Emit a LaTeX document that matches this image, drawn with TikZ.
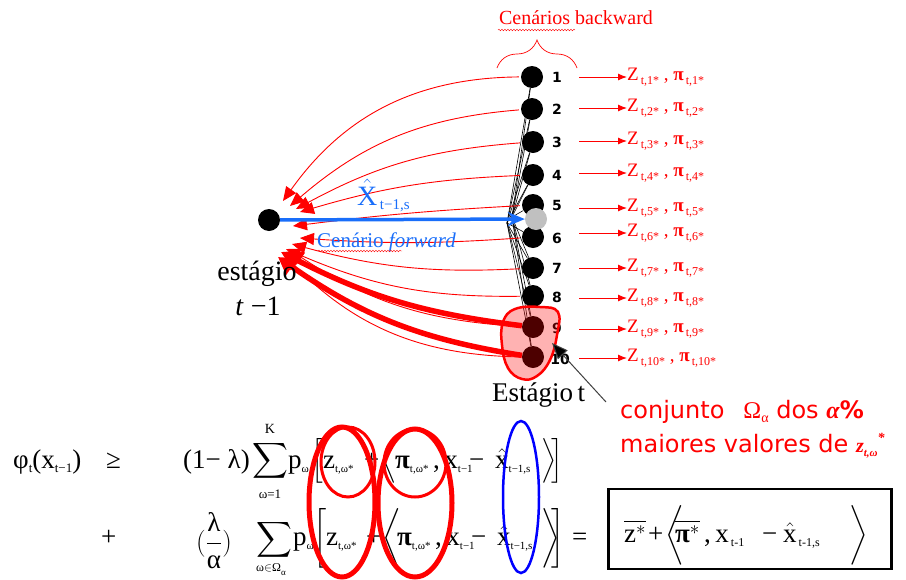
\RequirePackage{fix-cm}
\documentclass[tikz,border=0pt]{standalone}
\usepackage{amsmath}
\usepackage{fontspec}
\setmainfont{Liberation Serif}
\newfontfamily\dvsans{DejaVu Sans}
\usetikzlibrary{arrows.meta,decorations.pathreplacing,decorations.pathmorphing}
\definecolor{rd}{RGB}{255,0,0}
\definecolor{bl}{RGB}{25,110,250}
\definecolor{gry}{RGB}{192,192,192}
\newcommand{\fs}[1]{\fontsize{#1}{#1}\selectfont}
\newcommand{\lo}[2]{\raisebox{-4pt}{\fs{#1}#2}}
\newcommand{\ldl}[3]{$\left#1\vrule height #2 depth #3 width 0pt\right.$}
\newcommand{\rdl}[3]{$\left.\vrule height #2 depth #3 width 0pt\right#1$}
\begin{document}
\begin{tikzpicture}[x=1pt,y=-1pt,
  bnode/.style={circle,fill=black,minimum size=22pt,inner sep=0pt},
  gnode/.style={circle,fill=gry,minimum size=22pt,inner sep=0pt},
  num/.style={font=\dvsans\bfseries\fs{14},inner sep=0pt},
  zlab/.style={text=rd,font=\fs{19},anchor=west,inner sep=0pt},
  rarr/.style={draw=rd,line width=1pt,-{Latex[length=9pt,width=7pt]}},
  thinr/.style={draw=rd,line width=0.9pt,-{Triangle[length=14pt,width=12pt]},shorten <=2pt},
  thickr/.style={draw=rd,line width=5.5pt,-{Triangle[length=17pt,width=19pt]}},
  fan/.style={draw=black,line width=0.6pt},
  wavy/.style={draw=rd,line width=0.4pt,decorate,decoration={snake,amplitude=0.8pt,segment length=3pt}},
  eq/.style={anchor=base west,inner sep=0pt,font=\fs{27}},
  ctr/.style={inner sep=0pt}]
\useasboundingbox (0,0) rectangle (906,579);
\fill[white] (0,0) rectangle (906,579);

% nodes
\node[bnode] (L) at (269,220) {};
\node[bnode] (n1) at (532,77) {};
\node[bnode] (n2) at (532,109) {};
\node[bnode] (n3) at (533,142) {};
\node[bnode] (n4) at (533,175) {};
\node[bnode] (n5) at (533,205) {};
\node[bnode] (n6) at (533,237) {};
\node[bnode] (n7) at (533,268) {};
\node[bnode] (n8) at (533,296) {};
\node[bnode] (n9) at (533,327) {};
\node[bnode] (n10) at (533,357) {};
\node[gnode] (g) at (536,219) {};

% fan lines
\coordinate (F1) at (512,217);
\coordinate (F2) at (507,223);
\foreach \i in {1,2,3,4,7,8,9,10} {
  \draw[fan] (F1) -- (n\i);
  \draw[fan] (F2) -- (n\i);
}
\draw[fan] (F1) -- (n5);
\draw[fan] (F2) -- (n6);

% numbers
\foreach \i/\y in {1/77,2/109,3/142,4/175,5/205,6/238,7/268,8/297,9/328} {
  \node[num] (k\i) at (557,\y) {\i};
}
\node[num] (k10) at (560,359) {10};

% right labels
\foreach \i/\y in {1/77,2/108,3/141,4/173,5/208,6/233,7/268,8/298,9/329,10/358} {
  \coordinate (a\i) at (579,\y);
  \node[zlab] (z\i) at (627,\y) {Z\lo{12}{\,t,\i*} , \textbf{π}\lo{12}{\,t,\i*}};
  \draw[rarr] (a\i) -- (z\i.west);
}

% tips of red arrows
\coordinate (t1) at (283,201);
\coordinate (t2) at (290,206);
\coordinate (t3) at (296,209);
\coordinate (t4) at (300,212);
\coordinate (t5) at (293,226);
\coordinate (t6) at (300,238);
\coordinate (t7) at (292,244);
\coordinate (t8) at (286,249);
\coordinate (t9) at (281,252);
\coordinate (t9b) at (290,250);
\coordinate (t10) at (278,257);
\coordinate (t10b) at (285,256);

\draw[thinr] (n1) to[bend right=27] (t1);
\draw[thinr] (n2) to[bend right=18] (t2);
\draw[thinr] (n3) to[bend right=12] (t3);
\draw[thinr] (n4) to[bend right=7] (t4);
\draw[thinr] (n5) to[bend right=2] (t5);
\draw[thinr] (n6) to[bend left=4] (t6);
\draw[thinr] (n7) to[bend left=9] (t7);
\draw[thinr] (n8) to[bend left=12] (t8);
\draw[thinr] (n9) to[bend left=15] (t9b);
\draw[thinr] (n10) to[bend left=22] (t10b);
\draw[thickr] (n9) to[bend left=10] (t9);
\draw[thickr] (n10) to[bend left=13] (t10);

% blue forward arrow
\draw[bl,line width=3.5pt,-{Stealth[length=17pt,width=14pt]}] (L) -- (g);

% blob around 9 and 10
\draw[rd,line width=2.5pt,fill=rd,fill opacity=0.3] plot[smooth cycle,tension=0.7] coordinates {(503,322) (515,309) (540,307) (558,312) (557,335) (550,360) (537,376) (522,379) (508,368) (502,345)};

% pointer arrow
\coordinate (p1) at (606,402);
\coordinate (p2) at (552,343);
\draw[draw=black!75,line width=1pt,-{Triangle[length=16pt,width=13pt,fill=black]}] (p1) -- (p2);

% title and brace
\node[text=rd,font=\fs{20},ctr] (ttl) at (576,18) {Cenários backward};
\coordinate (w1) at (498,30);
\coordinate (w2) at (575,30);
\draw[wavy] (w1) -- (w2);
\coordinate (b1) at (497,68);
\coordinate (b2) at (577,68);
\draw[rd,line width=0.7pt,decorate,decoration={brace,amplitude=28pt}] (b1) -- (b2);

% blue texts
\node[text=bl,anchor=base west,inner sep=0pt] (xh) at (357,205) {\fs{28}$\hat{\mathrm{X}}$\lo{15}{\,t−1,s}};
\node[text=bl,anchor=base west,inner sep=0pt,font=\fs{21}] (cf) at (317,247) {Cenário \textit{forward}};
\coordinate (w3) at (318,251);
\coordinate (w4) at (402,251);
\draw[wavy] (w3) -- (w4);

% stage labels
\node[font=\fs{28},anchor=base,inner sep=0pt] (est) at (257,280) {estágio};
\node[font=\fs{28},anchor=base,inner sep=0pt] (tm) at (258,315) {\textit{t} −1};
\node[font=\fs{27},anchor=base west,inner sep=0pt] (Et) at (492,401) {Estágio\,t};

% conjunto text
\node[text=rd,anchor=base west,inner sep=0pt,font=\dvsans\fs{24}] (cj1) at (620,418) {conjunto\hspace{19pt}{\rmfamily Ω\lo{14}{α}} dos {\rmfamily\bfseries\itshape α}\textbf{\%}};
\node[text=rd,anchor=base west,inner sep=0pt,font=\dvsans\fs{24}] (cj2) at (620,452) {maiores valores de {\rmfamily\bfseries\itshape\fs{20}z\lo{11}{t,ω}\raisebox{10pt}{\fs{14}*}}};

% equation line 1
\node[eq] (phi) at (13,468) {φ\lo{13}{t}(x\lo{13}{t−1})};
\node[eq] (geq) at (106,468) {≥};
\node[eq] (c1) at (183,468) {(1− λ)};
\node[anchor=base,inner sep=0pt,font=\fs{27}] (s1) at (270,468) {$\displaystyle\sum$};
\node[font=\fs{14},ctr] (K) at (270,429) {K};
\node[font=\fs{13},ctr] (om1) at (270,494) {ω=1};
\node[eq] (p1e) at (288,468) {p\lo{11}{ω}};
\node[eq] (lb1) at (311,468) {\ldl{[}{27pt}{17pt}};
\node[eq] (zz1) at (323,468) {z\lo{11}{t,ω*}};
\node[eq] (pl1) at (364,468) {+};
\node[eq] (la1) at (381,468) {\ldl{\langle}{27pt}{17pt}};
\node[eq] (pi1) at (395,468) {\textbf{π}\lo{11}{t,ω*}};
\node[eq] (xx1) at (433,468) {,\,x\lo{11}{t−1}};
\node[eq] (mi1) at (469,468) {−};
\node[eq] (xh1) at (495,468) {$\hat{\mathrm{x}}$\lo{11}{t−1,s}};
\node[eq] (ra1) at (540,468) {\rdl{\rangle}{27pt}{17pt}};
\node[eq] (rb1) at (550,468) {\rdl{]}{27pt}{17pt}};

% equation line 2
\node[eq] (plus2) at (101,545) {+};
\node[eq] (fr) at (196,550) {$(\displaystyle\frac{\mbox{λ}}{\mbox{α}})$};
\node[anchor=base,inner sep=0pt,font=\fs{27}] (s2) at (274,547) {$\displaystyle\sum$};
\node[font=\fs{12},ctr] (om2) at (271,570) {ω$\in$Ω\lo{9}{α}};
\node[eq] (p2e) at (293,545) {p\lo{11}{ω}};
\node[eq] (lb2) at (313,545) {\ldl{[}{27pt}{24pt}};
\node[eq] (zz2) at (326,545) {z\lo{11}{t,ω*}};
\node[eq] (pl2) at (366,545) {+};
\node[eq] (la2) at (382,545) {\ldl{\langle}{27pt}{22pt}};
\node[eq] (pi2) at (397,545) {\textbf{π}\lo{11}{t,ω*}};
\node[eq] (xx2) at (435,545) {,\,x\lo{11}{t−1}};
\node[eq] (mi2) at (471,545) {−};
\node[eq] (xh2) at (497,545) {$\hat{\mathrm{x}}$\lo{11}{t−1,s}};
\node[eq] (ra2) at (540,545) {\rdl{\rangle}{27pt}{22pt}};
\node[eq] (rb2) at (550,545) {\rdl{]}{27pt}{24pt}};
\node[eq] (eqs) at (572,545) {=};

% result box
\node[draw,line width=2.5pt,minimum width=283pt,minimum height=80pt,inner sep=0pt] (bx) at (750,529) {};
\node[eq] (bz) at (624,542) {$\overline{\mathrm{z}^{*}}$};
\node[eq] (bp) at (648,542) {+};
\node[eq] (ba) at (665,542) {\ldl{\langle}{34pt}{20pt}};
\node[eq] (bpi) at (675,542) {$\overline{\mbox{\textbf{π}}^{*}}$};
\node[eq] (bx1) at (704,542) {,\,x\lo{12}{\,t-1}};
\node[eq] (bm) at (762,542) {−};
\node[eq] (bxh) at (783,542) {$\hat{\mathrm{x}}$\lo{12}{\,t-1,s}};
\node[eq] (bb) at (848,542) {\rdl{\rangle}{34pt}{20pt}};

% ellipses
\draw[rd,line width=3pt] (348,462) ellipse (27pt and 35pt);
\draw[rd,line width=5pt] (342,502) ellipse (33pt and 75pt);
\draw[rd,line width=3pt] (415,463) ellipse (31pt and 34pt);
\draw[rd,line width=5pt] (415,503) ellipse (37pt and 74pt);
\draw[blue,line width=2.5pt] (521,497) ellipse (18pt and 76pt);
\end{tikzpicture}
\end{document}
